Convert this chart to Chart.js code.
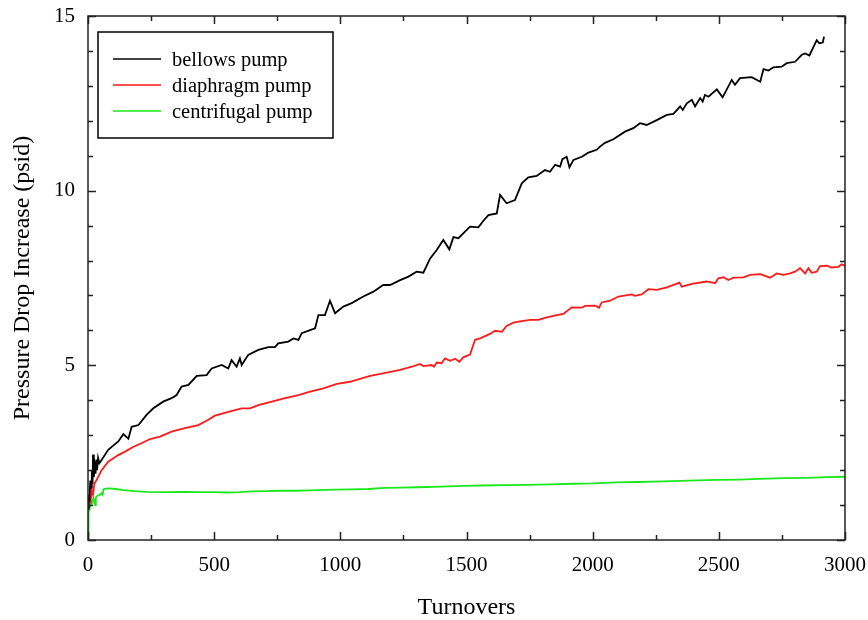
<!DOCTYPE html>
<html>
<head>
<meta charset="utf-8">
<script src="https://cdn.jsdelivr.net/npm/chart.js@4.4.1/dist/chart.umd.min.js"></script>
<style>
  html, body { margin: 0; padding: 0; background: #fff; }
  #wrap { width: 868px; height: 620px; }
</style>
</head>
<body>
<div id="wrap"><canvas id="grafico" width="868" height="620"></canvas></div>
<script>
// bellows pump
const bellowsTurnovers = [0,3,6,9,12,15,18,20,23,27,30,33,36,40,45,50,80,120,140,160,173,200,232,259,298,331,351,371,398,431,470,490,530,556,569,589,602,609,635,675,715,741,754,794,814,834,847,880,900,913,939,959,979,1012,1045,1091,1131,1170,1197,1237,1270,1302,1329,1356,1382,1408,1432,1448,1468,1514,1547,1567,1587,1620,1633,1659,1692,1719,1745,1778,1811,1831,1851,1871,1880,1897,1908,1924,1957,1983,2016,2029,2049,2082,2128,2161,2188,2214,2254,2294,2320,2347,2357,2373,2393,2406,2426,2436,2445,2459,2492,2515,2551,2564,2584,2630,2664,2677,2697,2716,2749,2769,2802,2829,2842,2859,2888,2898,2912,2917];
const bellowsPsid = [0.9,1.3,1.1,1.7,1.5,2.0,1.6,2.45,1.8,2.1,1.9,2.3,2.0,2.35,2.2,2.25,2.58,2.82,3.03,2.9,3.24,3.29,3.58,3.77,3.96,4.06,4.15,4.39,4.44,4.7,4.72,4.91,5.01,4.91,5.15,4.96,5.2,5.01,5.3,5.44,5.52,5.52,5.63,5.68,5.77,5.73,5.92,6.01,6.06,6.44,6.44,6.85,6.49,6.68,6.78,6.97,7.11,7.3,7.3,7.44,7.54,7.68,7.65,8.06,8.3,8.59,8.32,8.67,8.64,8.97,8.95,9.14,9.3,9.35,9.88,9.64,9.73,10.21,10.38,10.42,10.59,10.54,10.74,10.69,10.9,10.97,10.67,10.88,10.97,11.09,11.17,11.26,11.37,11.47,11.69,11.79,11.93,11.88,12.02,12.17,12.2,12.41,12.31,12.5,12.6,12.41,12.65,12.55,12.74,12.69,12.9,12.67,13.17,13.03,13.22,13.25,13.12,13.48,13.44,13.53,13.55,13.65,13.69,13.89,13.93,13.87,14.31,14.22,14.24,14.41];

// diaphragm pump
const diaphragmTurnovers = [0,5,10,15,20,25,34,54,80,120,147,180,212,246,285,331,384,437,477,503,556,609,642,675,728,781,834,880,933,986,1038,1118,1184,1237,1283,1316,1329,1362,1371,1382,1401,1415,1435,1455,1472,1487,1514,1534,1554,1593,1613,1640,1659,1686,1706,1752,1785,1818,1858,1884,1917,1957,1970,2010,2025,2036,2069,2102,2155,2168,2194,2221,2254,2294,2344,2353,2393,2452,2485,2498,2518,2538,2558,2597,2624,2664,2703,2730,2756,2782,2802,2822,2842,2855,2868,2888,2901,2928,2947,2974,2987,3000];
const diaphragmPsid = [1.0,1.2,1.1,1.43,1.3,1.6,1.72,2.0,2.24,2.43,2.53,2.67,2.77,2.89,2.96,3.1,3.2,3.29,3.44,3.56,3.67,3.77,3.77,3.86,3.96,4.06,4.15,4.25,4.34,4.47,4.53,4.7,4.79,4.87,4.96,5.04,4.98,5.01,4.96,5.08,5.06,5.2,5.13,5.19,5.1,5.23,5.31,5.73,5.77,5.9,5.99,5.96,6.13,6.22,6.25,6.3,6.3,6.37,6.44,6.47,6.66,6.65,6.7,6.71,6.65,6.8,6.85,6.97,7.03,6.99,7.03,7.18,7.16,7.23,7.37,7.25,7.33,7.4,7.35,7.49,7.52,7.44,7.51,7.52,7.59,7.61,7.51,7.63,7.59,7.63,7.68,7.78,7.63,7.78,7.65,7.68,7.84,7.85,7.8,7.82,7.89,7.85];

// centrifugal pump
const centrifugalTurnovers = [0,1,3,5,8,12,16,21,25,28,31,34,40,47,54,58,61,70,87,110,140,186,232,300,384,450,500,556,600,648,700,761,820,880,913,980,1045,1110,1177,1240,1309,1400,1487,1560,1650,1740,1831,1920,2000,2095,2180,2280,2380,2492,2580,2660,2756,2850,2930,3000];
const centrifugalPsid = [0,0.67,0.8,0.85,0.95,1.1,1.05,1.19,1.15,1.0,1.22,1.24,1.28,1.29,1.34,1.3,1.45,1.47,1.48,1.46,1.43,1.40,1.38,1.37,1.38,1.37,1.37,1.36,1.37,1.39,1.40,1.41,1.41,1.42,1.43,1.44,1.45,1.46,1.49,1.50,1.51,1.53,1.55,1.56,1.57,1.58,1.59,1.61,1.62,1.65,1.66,1.68,1.70,1.72,1.73,1.75,1.77,1.78,1.80,1.81];

const seriesNames = ['bellows pump', 'diaphragm pump', 'centrifugal pump'];
const xTickLabels = [0, 500, 1000, 1500, 2000, 2500, 3000];
const yTickLabels = [0, 5, 10, 15];

const fuente = 'Liberation Serif, Times New Roman, serif';

function puntos(xs, ys) {
    return xs.map((t, i) => ({ x: t, y: ys[i] }));
}

// frame with inward ticks on all four sides
const marco = {
    id: 'marco',
    afterDatasetsDraw(chart) {
        const { ctx, chartArea: a, scales: { x, y } } = chart;
        ctx.save();
        ctx.strokeStyle = '#222';
        ctx.lineWidth = 1.5;
        ctx.beginPath();
        for (let t = 0; t <= 3000; t += 250) {
            const px = Math.round(x.getPixelForValue(t)) + 0.5;
            const len = t % 500 === 0 ? 8 : 5;
            ctx.moveTo(px, a.bottom); ctx.lineTo(px, a.bottom - len);
            ctx.moveTo(px, a.top); ctx.lineTo(px, a.top + len);
        }
        for (let v = 0; v <= 15; v += 1) {
            const py = Math.round(y.getPixelForValue(v)) + 0.5;
            const len = v % 5 === 0 ? 8 : 5;
            ctx.moveTo(a.left, py); ctx.lineTo(a.left + len, py);
            ctx.moveTo(a.right, py); ctx.lineTo(a.right - len, py);
        }
        ctx.stroke();
        ctx.strokeRect(a.left, a.top, a.width, a.height);
        ctx.restore();
    }
};

// boxed legend inside the plot
const leyenda = {
    id: 'leyenda',
    afterDraw(chart) {
        const { ctx, chartArea: a } = chart;
        const bx = a.left + 10, by = a.top + 16, bw = 235, bh = 106;
        ctx.save();
        ctx.fillStyle = '#fff';
        ctx.fillRect(bx, by, bw, bh);
        ctx.strokeStyle = '#000';
        ctx.lineWidth = 1.5;
        ctx.strokeRect(bx, by, bw, bh);
        ctx.font = '20.5px ' + fuente;
        ctx.textBaseline = 'middle';
        chart.data.datasets.forEach((ds, i) => {
            const yy = by + 27 + i * 26;
            ctx.strokeStyle = ds.borderColor;
            ctx.lineWidth = 1.5;
            ctx.beginPath();
            ctx.moveTo(bx + 15, yy);
            ctx.lineTo(bx + 63, yy);
            ctx.stroke();
            ctx.fillStyle = '#000';
            ctx.fillText(ds.label, bx + 74, yy + 1.5);
        });
        ctx.restore();
    }
};

const ctx = document.getElementById('grafico').getContext('2d');
const chart = new Chart(ctx, {
    type: 'line',
    data: {
        datasets: [
            { label: seriesNames[0], data: puntos(bellowsTurnovers, bellowsPsid), borderColor: '#000000' },
            { label: seriesNames[1], data: puntos(diaphragmTurnovers, diaphragmPsid), borderColor: '#ff1a1a' },
            { label: seriesNames[2], data: puntos(centrifugalTurnovers, centrifugalPsid), borderColor: '#1ae81a' }
        ]
    },
    options: {
        responsive: false,
        animation: false,
        devicePixelRatio: 1,
        layout: { padding: { top: 16, right: 23, left: 0, bottom: 0 } },
        elements: {
            line: { borderWidth: 1.8, tension: 0, fill: false },
            point: { radius: 0 }
        },
        plugins: {
            legend: { display: false },
            tooltip: { enabled: false }
        },
        scales: {
            x: {
                type: 'linear',
                min: 0, max: 3000,
                afterFit: s => { s.height = 80; s.paddingLeft = 0; s.paddingRight = 0; },
                afterBuildTicks: s => { s.ticks = xTickLabels.map(v => ({ value: v })); },
                grid: { display: false },
                border: { display: false },
                ticks: { color: '#000', padding: 5, maxRotation: 0, callback: v => String(v), font: { family: fuente, size: 21 } },
                title: { display: true, text: 'Turnovers', color: '#000', padding: { top: 0, bottom: 0 }, font: { family: fuente, size: 24, lineHeight: 1.0 } }
            },
            y: {
                type: 'linear',
                min: 0, max: 15,
                afterFit: s => { s.width = 88; s.paddingTop = 0; s.paddingBottom = 0; },
                afterBuildTicks: s => { s.ticks = yTickLabels.map(v => ({ value: v })); },
                grid: { display: false },
                border: { display: false },
                ticks: { color: '#000', padding: 5, callback: v => String(v), font: { family: fuente, size: 21 } },
                title: { display: true, text: 'Pressure Drop Increase (psid)', color: '#000', padding: { top: 8, bottom: 0 }, font: { family: fuente, size: 24 } }
            }
        }
    },
    plugins: [marco, leyenda]
});
</script>
</body>
</html>
